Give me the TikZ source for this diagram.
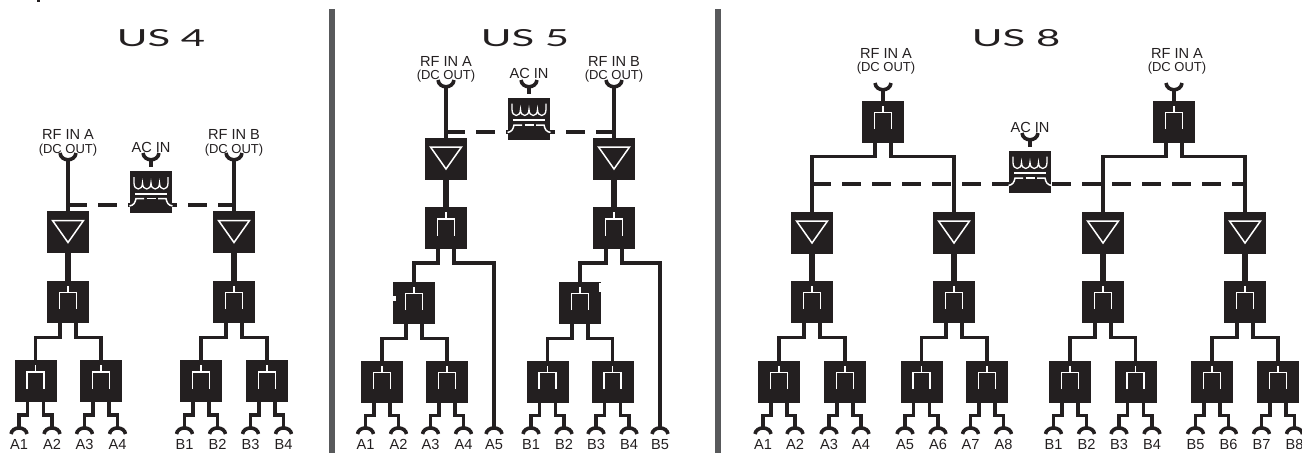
\documentclass[tikz,border=0pt]{standalone}
\usepackage{fontspec}
\setmainfont{Liberation Sans}
\newfontfamily\titlefont[FakeStretch=1.78]{Lato}
\usetikzlibrary{calc}
\definecolor{boxBlack}{HTML}{231F20}
\definecolor{barGrey}{HTML}{58595B}

\begin{document}
\begin{tikzpicture}[x=1pt,y=-1pt,
  ampbox/.style={rectangle,fill=boxBlack,inner sep=0pt,outer sep=0pt,minimum size=42pt},
  splitbox/.style={rectangle,fill=boxBlack,inner sep=0pt,outer sep=0pt,minimum size=42pt},
  acbox/.style={rectangle,fill=boxBlack,inner sep=0pt,outer sep=0pt,minimum size=42pt},
  trunk/.style={draw=boxBlack,line width=5.5pt},
  feed/.style={draw=boxBlack,line width=3.8pt},
  stem/.style={draw=boxBlack,line width=4pt},
  acline/.style={draw=boxBlack,line width=4pt,dash pattern=on 19pt off 11pt},
  glyph/.style={draw=white,line width=1.5pt},
  cupline/.style={draw=boxBlack,line width=3.6pt},
  lbl/.style={inner sep=0pt,anchor=base,font=\fontsize{14.6pt}{15pt}\selectfont,text=boxBlack},
  sublbl/.style={inner sep=0pt,anchor=base,font=\fontsize{13pt}{14pt}\selectfont,text=boxBlack},
  ttl/.style={inner sep=0pt,anchor=base,font=\titlefont\fontsize{23.5pt}{25pt}\selectfont,text=boxBlack},
  pics/ampmark/.style={code={\draw[glyph] (-15.5,-11.5) -- (15.5,-11.5) -- (0,10.5) -- cycle;}},
  pics/splitmark/.style={code={\draw[glyph] (-8.5,7.5) -- (-8.5,-9) -- (8.5,-9) -- (8.5,7.5) (0,-9) -- (0,-16);}},
  pics/trafomark/.style={code={
    \draw[glyph,line width=1.3pt] (-17,-15) -- (-17,-9) .. controls (-17,-1) and (-8.5,-1) .. (-8.5,-9)
      .. controls (-8.5,-1) and (0,-1) .. (0,-9) .. controls (0,-1) and (8.5,-1) .. (8.5,-9)
      .. controls (8.5,-1) and (17,-1) .. (17,-9) -- (17,-15);
    \draw[glyph,line width=2pt] (-16,1.5) -- (16,1.5);
    \draw[glyph] (-21.5,14) .. controls (-17,13) and (-16,11) .. (-15,6.5) -- (-7,6.5);
    \draw[glyph] (-4.5,6.5) -- (4.5,6.5);
    \draw[glyph] (21.5,14) .. controls (17,13) and (16,11) .. (15,6.5) -- (7,6.5);}},
  pics/cupdown/.style={code={\draw[cupline] (-8,6) .. controls (-7,-2) and (7,-2) .. (8,6);}},
  pics/cupup/.style={code={\draw[cupline] (-8,0) .. controls (-7,9) and (7,9) .. (8,0);}}
]
\useasboundingbox (0,0) rectangle (1302,453);

% separators and titles
\fill[barGrey] (329,9) rectangle (334.5,453);
\fill[barGrey] (714.5,9) rectangle (720.5,453);
\fill[boxBlack] (37,0) rectangle (39.5,2);
\node[ttl] (t4) at (161,46) {US 4};
\node[ttl] (t5) at (525,46) {US 5};
\node[ttl] (t8) at (1016,46) {US 8};

% ac lines, under the boxes
\coordinate (d1) at (68,205);    \coordinate (d2) at (234,205);
\coordinate (d3) at (446,132);   \coordinate (d4) at (614,132);
\coordinate (d5) at (812,184);   \coordinate (d6) at (1245,184);
\draw[acline] (d1) -- (d2);
\draw[acline] (d3) -- (d4);
\draw[acline] (d5) -- (d6);

% amplifiers
\foreach \n/\x/\y in {
a1/68/232,a2/234/232,a3/446/158.5,a4/614/158.5,
a5/812/232.5,a6/954/232.5,a7/1103/232.5,a8/1245/232.5}
  {\node[ampbox] (\n) at (\x,\y) {}; \pic at (\n) {ampmark};}
% splitters
\foreach \n/\x/\y in {
s1/68/301.5,s2/234/301.5,
s3/35.5/381,s4/101/381,s5/201/381,s6/267/381,
s7/446/228,s8/614/228,s9/414/302.5,s10/580/302.5,
s11/382/381.5,s12/447/381.5,s13/547.5/381.5,s14/612.5/381.5,
s15/883/121.5,s16/1174/121.5,
s17/812/301.5,s18/954/301.5,s19/1103/301.5,s20/1245/301.5,
s21/779/381.5,s22/845/381.5,s23/921.5/381.5,s24/987/381.5,
s25/1070/381.5,s26/1135.5/381.5,s27/1212/381.5,s28/1278/381.5}
  {\node[splitbox] (\n) at (\x,\y) {}; \pic at (\n) {splitmark};}
% power supplies
\foreach \n/\x/\y in {p1/151/192,p2/529/118.5,p3/1030/171.5}
  {\node[acbox] (\n) at (\x,\y) {}; \pic at (\n) {trafomark};}
\fill[white] (393,296) rectangle (395.5,301);
\fill[white] (598.5,283) rectangle (601,292);

% inputs
\foreach \n/\x/\y/\b in {
i1/68/153/a1,i2/234/153/a2,i3/446/80/a3,i4/614/80/a4,i5/883/83/s15,i6/1174/83/s16}
  {\coordinate (\n) at (\x,\y); \pic at (\n) {cupup};
   \draw[stem] ($(\n)+(0,6)$) -- (\b.north);}
\foreach \n/\x/\y/\b in {c1/151/153/p1,c2/529/80/p2,c3/1030/133/p3}
  {\coordinate (\n) at (\x,\y); \pic at (\n) {cupup};
   \draw[stem,shorten >=4pt] ($(\n)+(0,6)$) -- (\b.north);}

% straight links
\foreach \a/\b in {a1/s1,a2/s2,a3/s7,a4/s8,a5/s17,a6/s18,a7/s19,a8/s20}
  \draw[trunk] (\a.south) -- (\b.north);
% branches
\foreach \a/\o/\d/\b in {
s1/-8/15/s3,s1/8/15/s4,s2/-8/15/s5,s2/8/15/s6,
s7/-8/14/s9,s8/-8/14/s10,
s9/-8/15/s11,s9/8/15/s12,s10/-8/15/s13,s10/8/15/s14,
s15/-8/14/a5,s15/8/14/a6,s16/-8/14/a7,s16/8/14/a8,
s17/-8/15/s21,s17/8/15/s22,s18/-8/15/s23,s18/8/15/s24,
s19/-8/15/s25,s19/8/15/s26,s20/-8/15/s27,s20/8/15/s28}
  \draw[feed] ($(\a.south)+(\o,0)$) -- ($(\a.south)+(\o,\d)$) -| (\b.north);

% outputs
\foreach \n/\x/\a/\o/\d/\t in {
A1/19/s3/-8/13/A1,A2/52/s3/8/13/A2,A3/84.5/s4/-8/13/A3,A4/117.5/s4/8/13/A4,
B1/184.5/s5/-8/13/B1,B2/217.5/s5/8/13/B2,B3/250.5/s6/-8/13/B3,B4/283.5/s6/8/13/B4,
C1/365.5/s11/-8/13/A1,C2/398.5/s11/8/13/A2,C3/430.5/s12/-8/13/A3,C4/463.5/s12/8/13/A4,C5/494/s7/8/14/A5,
D1/531/s13/-8/13/B1,D2/564/s13/8/13/B2,D3/596/s14/-8/13/B3,D4/629/s14/8/13/B4,D5/660/s8/8/14/B5,
E1/763/s21/-8/13/A1,E2/795/s21/8/13/A2,E3/829/s22/-8/13/A3,E4/861/s22/8/13/A4,
E5/905/s23/-8/13/A5,E6/938/s23/8/13/A6,E7/970.5/s24/-8/13/A7,E8/1003.5/s24/8/13/A8,
F1/1053.5/s25/-8/13/B1,F2/1086.5/s25/8/13/B2,F3/1119/s26/-8/13/B3,F4/1152/s26/8/13/B4,
F5/1195.5/s27/-8/13/B5,F6/1228.5/s27/8/13/B6,F7/1261.5/s28/-8/13/B7,F8/1294.5/s28/8/13/B8}
  {\coordinate (\n) at (\x,428); \pic at (\n) {cupdown};
   \draw[feed] ($(\a.south)+(\o,0)$) -- ($(\a.south)+(\o,\d)$) -| (\n);
   \node[lbl] (l\n) at (\x,449.5) {\t};}

% labels
\foreach \n/\x/\y/\t in {
r1/68/139.5/RF IN A,r2/234/139.5/RF IN B,r3/446/66.5/RF IN A,r4/614/66.5/RF IN B,r5/886/58.5/RF IN A,r6/1177/58.5/RF IN A,
q1/151/152.5/AC IN,q2/529/78.5/AC IN,q3/1030/132.5/AC IN}
  \node[lbl] (\n) at (\x,\y) {\t};
\foreach \n/\x/\y in {o1/68/153,o2/234/153,o3/446/79.5,o4/614/79.5,o5/886/71.5,o6/1177/71.5}
  \node[sublbl] (\n) at (\x,\y) {(DC OUT)};
\end{tikzpicture}
\end{document}
